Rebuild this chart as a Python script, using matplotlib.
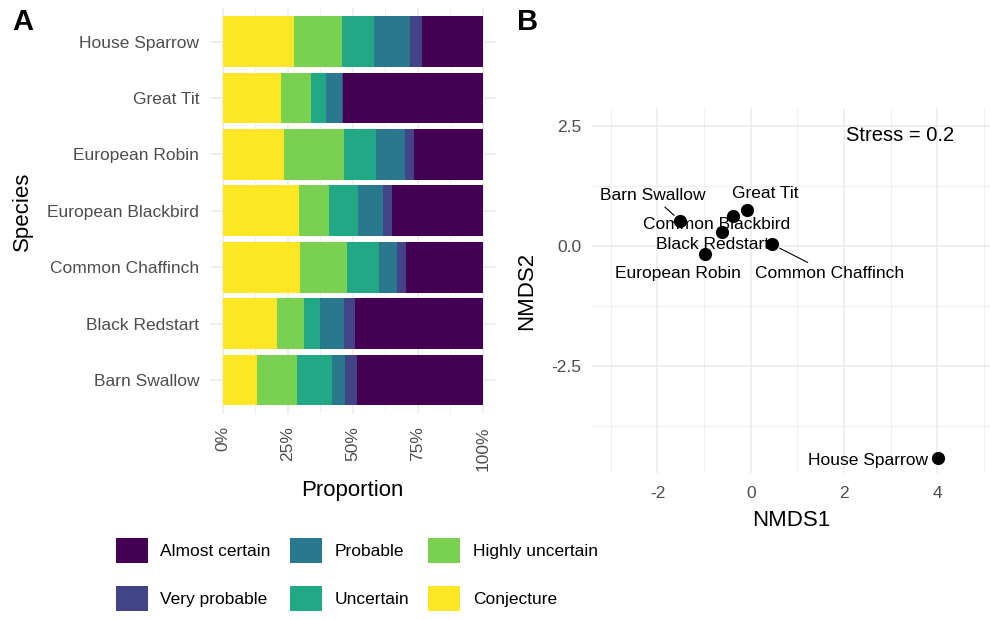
import numpy as np
import matplotlib
matplotlib.use("Agg")
import matplotlib.pyplot as plt
from matplotlib.patches import Patch
from matplotlib.ticker import FixedLocator

plt.rcParams['font.family'] = ['Liberation Sans', 'DejaVu Sans']
plt.rcParams['axes.unicode_minus'] = False

# Panel A data: proportion (%) of each certainty class per species (bottom to top)
species = ['Barn Swallow', 'Black Redstart', 'Common Chaffinch', 'European Blackbird',
           'European Robin', 'Great Tit', 'House Sparrow']
conjecture = [13.2, 21.0, 29.6, 29.4, 23.6, 22.4, 27.4]
highly_uncertain = [15.4, 10.2, 18.3, 11.5, 22.9, 11.6, 18.4]
uncertain = [13.5, 6.2, 12.1, 11.2, 12.3, 5.7, 12.3]
probable = [5.1, 9.1, 7.1, 9.4, 11.2, 6.2, 13.8]
very_probable = [4.5, 4.4, 3.4, 3.6, 3.5, 0.3, 4.6]
almost_certain = [48.3, 49.1, 29.5, 34.9, 26.5, 53.8, 23.5]

classes = ['Conjecture', 'Highly uncertain', 'Uncertain', 'Probable', 'Very probable', 'Almost certain']
class_colors = ['#FDE725', '#7AD151', '#22A884', '#2A788E', '#414487', '#440154']

# Panel B data: NMDS scores
nmds_species = ['House Sparrow', 'Great Tit', 'Common Blackbird', 'Black Redstart',
                'Barn Swallow', 'European Robin', 'Common Chaffinch']
nmds1 = [4.02, -0.08, -0.39, -0.61, -1.51, -0.99, 0.46]
nmds2 = [-4.40, 0.76, 0.64, 0.29, 0.53, -0.15, 0.04]
stress = 0.2

# label placement (pixel offsets from point, like ggrepel) and whether a segment is drawn
label_offsets = {
    'House Sparrow': (-10, -3, 'right', False),
    'Great Tit': (18, 16, 'center', False),
    'Common Blackbird': (-16, -9, 'center', False),
    'Black Redstart': (-10, -12, 'center', False),
    'Barn Swallow': (-28, 25, 'center', True),
    'European Robin': (-27, -20, 'center', False),
    'Common Chaffinch': (57, -29, 'center', True),
}

W, H = 990, 620
fig = plt.figure(figsize=(W / 100, H / 100), dpi=100)
grid_col = '#EBEBEB'
tick_col = '#4D4D4D'
fs = 12.5


def px_axes(l, t, r, b):
    return fig.add_axes([l / W, 1 - b / H, (r - l) / W, (b - t) / H])


def style(ax):
    for s in ax.spines.values():
        s.set_visible(False)
    ax.set_axisbelow(True)
    ax.tick_params(which='both', length=0, colors=tick_col, labelsize=fs)
    ax.grid(which='major', color=grid_col, linewidth=1.1)
    ax.grid(which='minor', color=grid_col, linewidth=0.55)


# ---- Panel A ----
axA = px_axes(209.7, 7.9, 495.7, 413.8)
style(axA)
y = np.arange(len(species))
left = np.zeros(len(species))
series = [conjecture, highly_uncertain, uncertain, probable, very_probable, almost_certain]
for vals, col in zip(series, class_colors):
    v = np.array(vals) / 100
    axA.barh(y, v, left=left, height=0.9, color=col, linewidth=0)
    left += v
axA.set_xlim(-0.05, 1.05)
axA.set_ylim(-0.6, len(species) - 0.4)
axA.set_yticks(y)
axA.set_yticklabels(species)
axA.xaxis.set_major_locator(FixedLocator([0, 0.25, 0.5, 0.75, 1.0]))
axA.xaxis.set_minor_locator(FixedLocator([0.125, 0.375, 0.625, 0.875]))
axA.set_xticklabels(['0%', '25%', '50%', '75%', '100%'], rotation=90)
axA.tick_params(axis='y', pad=7.7)
axA.tick_params(axis='x', pad=9)
axA.set_xlabel('Proportion', fontsize=16, va='center')
axA.set_ylabel('Species', fontsize=16, va='center', ha='center')
axA.xaxis.set_label_coords(0.5, -0.188)
axA.yaxis.set_label_coords(-0.656, 0.5)

# ---- Panel B ----
axB = px_axes(591.7, 108, 990, 473)
style(axB)
axB.scatter(nmds1, nmds2, s=90, color='black', zorder=3, linewidths=0)
for name, xv, yv in zip(nmds_species, nmds1, nmds2):
    dx, dy, ha, seg = label_offsets[name]
    arrow = dict(arrowstyle='-', color='black', lw=0.8, shrinkA=1, shrinkB=6) if seg else None
    axB.annotate(name, (xv, yv), xytext=(dx, dy), textcoords='offset pixels',
                 ha=ha, va='center', fontsize=fs, color='black', zorder=4,
                 arrowprops=arrow)
axB.text(3.21, 2.30, f'Stress = {stress}', fontsize=14.5, ha='center', va='center')
axB.set_xlim(-3.41, 5.13)
axB.set_ylim(-4.72, 2.88)
axB.xaxis.set_major_locator(FixedLocator([-2, 0, 2, 4]))
axB.xaxis.set_minor_locator(FixedLocator([-3, -1, 1, 3, 5]))
axB.yaxis.set_major_locator(FixedLocator([-2.5, 0, 2.5]))
axB.yaxis.set_minor_locator(FixedLocator([-3.75, -1.25, 1.25]))
axB.set_yticklabels(['-2.5', '0.0', '2.5'])
axB.tick_params(axis='y', pad=7.2)
axB.tick_params(axis='x', pad=9)
axB.set_xlabel('NMDS1', fontsize=16, va='center')
axB.set_ylabel('NMDS2', fontsize=16, va='center', ha='center')
axB.xaxis.set_label_coords(0.5, -0.1315)
axB.yaxis.set_label_coords(-0.1624, 0.5)

# panel tags
fig.text(12 / W, 1 - 22 / H, 'A', fontsize=21, fontweight='bold', va='center', ha='left')
fig.text(517 / W, 1 - 22 / H, 'B', fontsize=21, fontweight='bold', va='center', ha='left')

# legend at the bottom
order = ['Almost certain', 'Very probable', 'Probable', 'Uncertain', 'Highly uncertain', 'Conjecture']
handles = [Patch(facecolor=class_colors[classes.index(c)], edgecolor='none', label=c) for c in order]
fig.legend(handles=handles, loc='upper left', bbox_to_anchor=(115.7 / W, 1 - 538.3 / H),
           ncol=3, frameon=False, fontsize=fs, handlelength=1.85, handleheight=1.85,
           handletextpad=0.72, columnspacing=1.1, labelspacing=1.28, borderpad=0,
           borderaxespad=0)

fig.savefig('out.png', dpi=100)
